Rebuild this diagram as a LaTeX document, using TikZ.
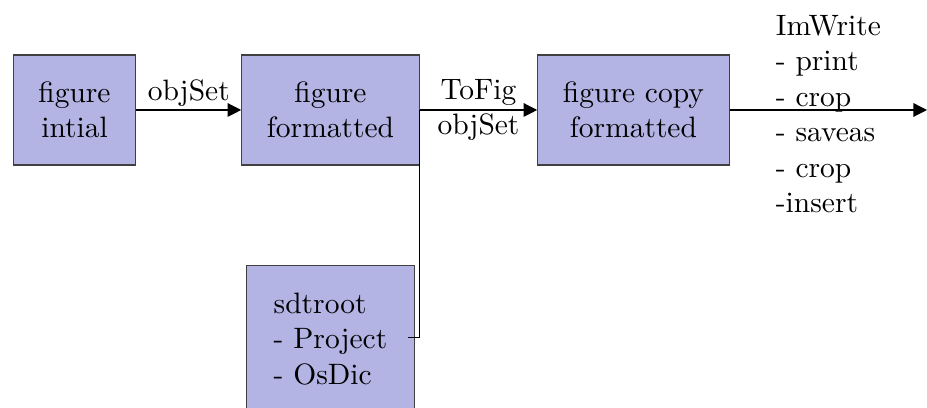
\documentclass[tikz,border=0pt]{standalone}
\usetikzlibrary{positioning,arrows.meta}
\definecolor{boxfill}{RGB}{179,179,228}

\begin{document}
\begin{tikzpicture}[
    node distance=1.25cm,
    >={Triangle[length=4.6pt,width=4.6pt]},
    block/.style={rectangle, draw=black!75, fill=boxfill, inner sep=3mm, minimum height=1.31cm, align=center},
    arrow/.style={->}
]
    \useasboundingbox (0,0) rectangle (11.05,-4.863);

    % Figure stages
    \node (initial) [block] at (0.888,-1.311) {figure \\ intial};
    \node (formatted) [block, right=1.25cm of initial] {figure \\ formatted};
    \node (copy) [block, right=1.4cm of formatted] {figure copy \\ formatted};

    % Root structure
    \node (sdtroot) [block, align=left, minimum height=1.76cm, minimum width=2cm, below=1.18cm of formatted] {sdtroot \\ - Project \\ - OsDic};

    \coordinate (export) at (11.05,-1.311);
    \coordinate (project) at ([xshift=-0.08cm, yshift=-0.87cm]sdtroot.north east);

    % Arrows
    \draw [arrow] (initial) -- node[above, inner sep=1pt] {objSet} (formatted);
    \draw [arrow] (formatted) -- node[align=center] {ToFig \\ objSet} (copy);
    \draw [arrow] (copy) -- node[align=left, yshift=-1.4pt] {ImWrite \\ - print \\ - crop \\ - saveas \\ - crop \\ -insert} (export);
    \draw (project) -| (formatted.east);

\end{tikzpicture}
\end{document}
